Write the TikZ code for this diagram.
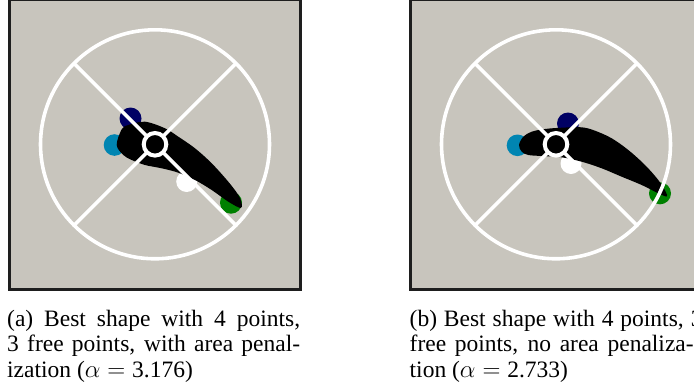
\documentclass[tikz,border=0pt]{standalone}
\usepackage{fontspec}
\setmainfont{Liberation Serif}
\definecolor{panelbg}{RGB}{200,197,189}
\definecolor{framecol}{RGB}{30,30,30}
\definecolor{dotnavy}{RGB}{0,0,100}
\definecolor{dotblue}{RGB}{0,133,178}
\definecolor{dotgreen}{RGB}{0,128,0}
\tikzset{
  panel/.style={fill=panelbg, draw=framecol, line width=2.5pt},
  spoke/.style={draw=white, line width=3.6pt},
  hub/.style={draw=white, line width=4pt, fill=black},
  dotp/.style={draw=none},
  airfoil/.style={fill=black, draw=none},
  captext/.style={inner sep=0pt, anchor=base west, font=\fontsize{23.5}{25.6}\selectfont},
  wheel/.pic={
    \draw[spoke] (0,0) circle (114.5);
    \draw[spoke] (-81,-81) -- (81,81);
    \draw[spoke] (-81,81) -- (81,-81);
    \draw[hub] (0,0) circle (11.3);
  }
}
\begin{document}
\begin{tikzpicture}[x=1pt,y=-1pt]
\useasboundingbox (0,0) rectangle (694,389);
\clip (0,0) rectangle (694,389);
\fill[white] (0,0) rectangle (694,389);

% ---------- panel (a)
\draw[panel] (9.5,-0.2) rectangle (300.5,289.3);
\coordinate (ca) at (155,144.3);
\fill[dotp, dotnavy] (130.5,118.5) circle (11);
\fill[dotp, dotblue] (114.5,145) circle (10.8);
\fill[dotp, white] (186.7,181.5) circle (10.5);
\fill[dotp, dotgreen] (231,202.7) circle (11);
\fill[airfoil] plot[smooth cycle, tension=0.55] coordinates {
  (116.7,145) (121.7,129.3) (128.3,125) (145,121.7) (165,128.3) (178.3,136.7)
  (195,148.3) (211.7,163.3) (228.3,181.7) (238.3,195) (241.7,203.5) (240.5,208)
  (228.3,201.7) (211.7,190) (195,180) (178.3,172.7) (161.7,168.3) (145,165)
  (131.7,160) (123.3,155)};
\pic at (ca) {wheel};

% ---------- panel (b)
\draw[panel] (410.5,-0.2) rectangle (701.5,289.3);
\coordinate (cb) at (556,144.3);
\fill[dotp, dotnavy] (568,123.5) circle (11);
\fill[dotp, dotblue] (517.5,145.3) circle (10.8);
\fill[dotp, white] (571,163.5) circle (10.5);
\fill[dotp, dotgreen] (660,193.3) circle (11);
\fill[airfoil] plot[smooth cycle, tension=0.55] coordinates {
  (519,145) (523.3,136.7) (531.7,131.7) (545,129) (561.7,127.7) (581.7,127.3)
  (595,130.7) (611.7,138.3) (628.3,150) (645,165) (658.3,180) (665.7,191.7)
  (666.7,196.5) (658.3,193.3) (641.7,185) (621.7,176.7) (601.7,168.3)
  (581.7,161.7) (561.7,157.3) (541.7,156) (528.3,155) (521.7,151.7)};
\pic at (cb) {wheel};

% ---------- captions
\node[captext] (a1) at (7,326) {\makebox[293pt][s]{(a) Best shape with 4 points,}};
\node[captext] (a2) at (7,351.5) {\makebox[293pt][s]{3 free points, with area penal-}};
\node[captext] (a3) at (7,377) {ization ($\alpha = \mbox{3.176}$)};
\node[captext] (b1) at (409.5,326) {\makebox[293pt][s]{(b) Best shape with 4 points, 3}};
\node[captext] (b2) at (409.5,351.5) {\makebox[284pt][s]{free points, no area penaliza-}};
\node[captext] (b3) at (409.5,377) {tion ($\alpha = \mbox{2.733}$)};
\end{tikzpicture}
\end{document}
